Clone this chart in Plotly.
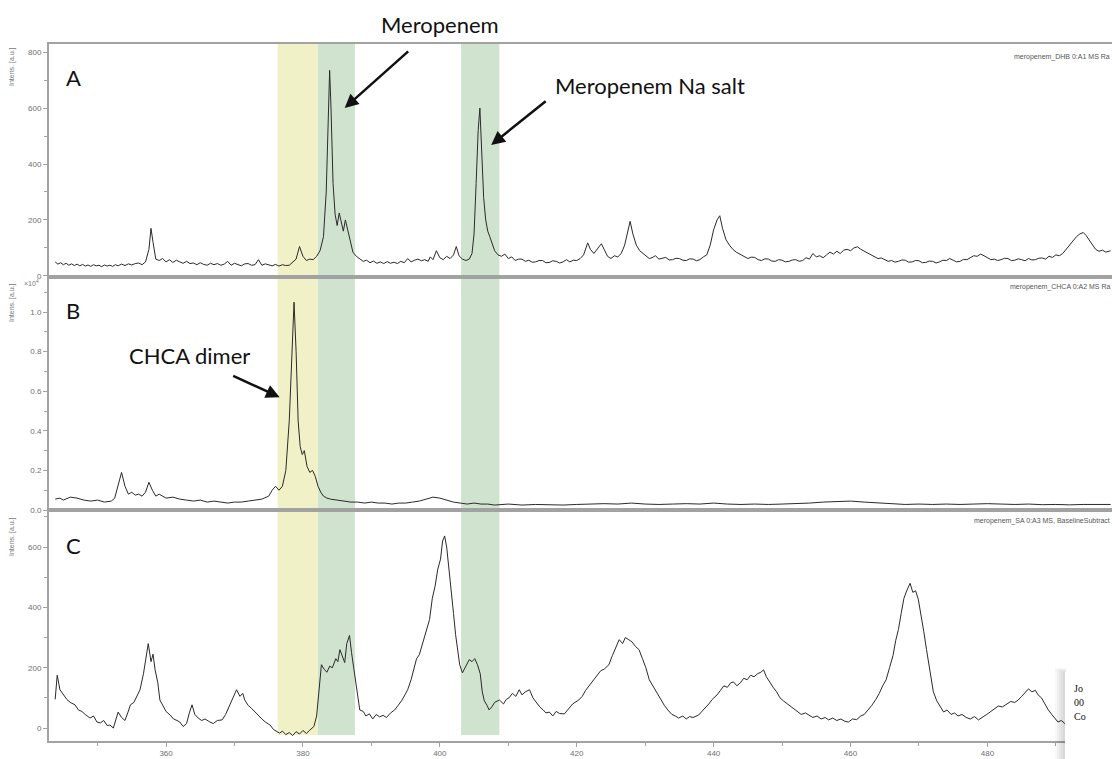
import plotly.graph_objects as go
from plotly.subplots import make_subplots

# ---------------- data ----------------
# Panel A (DHB matrix)
mz_a = [343.8, 344.2, 344.6, 345, 345.4, 345.8, 346.2, 346.6, 347, 347.4,
        347.8, 348.2, 348.6, 349, 349.4, 349.8, 350.2, 350.6, 351, 351.4,
        351.8, 352.2, 352.6, 353, 353.5, 354, 354.5, 355, 355.5, 356,
        356.5, 357, 357.5, 357.8, 358.1, 358.5, 359, 359.5, 360, 360.5,
        361, 361.5, 362, 362.5, 363, 363.5, 364, 364.5, 365, 365.5,
        366, 366.5, 367, 367.5, 368, 368.5, 369, 369.5, 370, 370.5,
        371, 371.5, 372, 372.5, 373, 373.5, 374, 374.5, 375, 375.5,
        376, 376.5, 377, 377.5, 378, 378.5, 379, 379.5, 380, 380.5,
        381, 381.5, 382, 382.5, 383, 383.4, 383.7, 383.9, 384.1, 384.4,
        384.7, 385, 385.3, 385.6, 385.9, 386.2, 386.5, 386.9, 387.3, 387.8,
        388.3, 388.8, 389.3, 389.8, 390.3, 390.8, 391.3, 391.8, 392.3, 392.8,
        393.3, 393.8, 394.3, 394.8, 395.3, 395.8, 396.3, 396.8, 397.3, 397.8,
        398.3, 398.6, 399, 399.5, 400, 400.5, 401, 401.5, 402, 402.4,
        402.8, 403.3, 403.8, 404.3, 404.7, 405, 405.3, 405.6, 405.85, 406.1,
        406.4, 406.7, 407, 407.3, 407.6, 408, 408.5, 409, 409.5, 410,
        410.5, 411, 411.5, 412, 412.5, 413, 413.5, 414, 414.5, 415,
        415.5, 416, 416.5, 417, 417.5, 418, 418.5, 419, 419.5, 420,
        420.5, 421, 421.6, 422, 422.5, 423, 423.6, 424, 424.5, 425,
        425.5, 426, 426.5, 427, 427.5, 427.8, 428.2, 428.7, 429.2, 429.7,
        430.2, 430.6, 431, 431.5, 432, 432.5, 433, 433.5, 434, 434.5,
        435, 435.5, 436, 436.5, 437, 437.5, 438, 438.5, 439, 439.5,
        440, 440.5, 440.9, 441.3, 441.8, 442.3, 442.8, 443.3, 444, 444.5,
        445, 445.5, 446, 446.5, 447, 447.5, 448, 448.5, 449, 449.5,
        450, 450.5, 451, 451.5, 452, 452.5, 453, 453.5, 454, 454.5,
        455, 455.5, 456, 456.5, 457, 457.5, 458, 458.5, 459, 459.5,
        460, 460.5, 461, 461.5, 462, 462.5, 463, 463.5, 464, 464.5,
        465, 465.5, 466, 466.5, 467, 467.5, 468, 468.5, 469, 469.5,
        470, 470.5, 471, 471.5, 472, 472.5, 473, 473.5, 474, 474.5,
        475, 475.5, 476, 476.5, 477, 477.5, 478, 478.5, 479, 479.5,
        480, 480.5, 481, 481.5, 482, 482.5, 483, 483.5, 484, 484.5,
        485, 485.5, 486, 486.5, 487, 487.5, 488, 488.5, 489, 489.5,
        490, 490.5, 491, 491.5, 492, 492.5, 493, 493.5, 494, 494.4,
        494.8, 495.3, 495.8, 496.3, 496.8, 497.3, 498]
int_a = [50, 42, 47, 40, 45, 38, 43, 37, 42, 36,
         41, 35, 39, 34, 40, 36, 38, 33, 39, 35,
         38, 34, 40, 36, 42, 37, 43, 39, 44, 46,
         40, 50, 95, 170, 120, 60, 55, 62, 50, 58,
         48, 56, 50, 45, 52, 44, 46, 40, 47, 41,
         38, 45, 40, 44, 38, 42, 52, 38, 45, 40,
         36, 43, 44, 38, 40, 58, 38, 43, 40, 36,
         41, 35, 40, 37, 38, 48, 60, 105, 70, 55,
         60, 58, 70, 90, 140, 300, 600, 735, 600, 330,
         220, 180, 225, 190, 160, 200, 170, 120, 85, 70,
         60, 52, 56, 47, 53, 45, 50, 44, 51, 45,
         49, 44, 52, 47, 62, 50, 56, 60, 54, 58,
         52, 68, 58, 90, 65, 58, 70, 62, 75, 105,
         72, 60, 55, 60, 80, 150, 330, 520, 600, 450,
         280, 200, 160, 140, 120, 90, 75, 70, 78, 62,
         68, 55, 60, 60, 52, 56, 49, 50, 55, 55,
         47, 48, 54, 52, 46, 50, 58, 50, 56, 55,
         62, 75, 118, 95, 80, 98, 115, 95, 70, 62,
         72, 68, 80, 110, 170, 195, 150, 110, 90, 80,
         70, 62, 65, 72, 60, 64, 66, 57, 58, 63,
         62, 56, 55, 61, 60, 54, 58, 68, 75, 110,
         165, 200, 215, 170, 130, 110, 95, 85, 75, 70,
         62, 67, 66, 58, 55, 61, 60, 53, 52, 58,
         56, 50, 52, 57, 58, 52, 55, 65, 60, 80,
         68, 72, 65, 75, 85, 78, 88, 80, 92, 95,
         90, 100, 104, 95, 88, 80, 75, 68, 62, 64,
         58, 52, 55, 49, 52, 57, 56, 49, 50, 55,
         54, 47, 48, 53, 52, 46, 50, 56, 55, 62,
         56, 50, 52, 59, 58, 66, 72, 70, 78, 72,
         64, 58, 60, 55, 58, 63, 62, 55, 56, 61,
         58, 54, 62, 57, 58, 63, 64, 60, 70, 66,
         75, 72, 80, 95, 110, 125, 140, 150, 155, 145,
         130, 110, 95, 88, 92, 85, 90]

# Panel B (CHCA matrix), intensities in units of 10^4
mz_b = [343.8, 344.5, 345, 346, 347, 348, 349, 350, 351, 352,
        352.5, 353, 353.5, 354, 354.5, 355, 355.5, 356, 356.5, 357,
        357.5, 358, 358.5, 359, 360, 361, 362, 363, 364, 365,
        366, 367, 368, 369, 370, 371, 372, 373, 374, 375,
        375.5, 376, 376.5, 377, 377.5, 378, 378.4, 378.7, 379, 379.3,
        379.6, 379.9, 380.2, 380.6, 381, 381.4, 381.8, 382.2, 382.6, 383,
        383.5, 384, 385, 386, 387, 388, 389, 390, 391, 392,
        393, 394, 395, 396, 397, 398, 399, 400, 401, 402,
        403, 404, 405, 406, 407, 408, 410, 412, 414, 416,
        418, 420, 422, 424, 426, 428, 430, 432, 434, 436,
        438, 440, 442, 444, 446, 448, 450, 452, 454, 456,
        458, 460, 462, 464, 466, 468, 470, 472, 474, 476,
        478, 480, 482, 484, 486, 488, 490, 492, 494, 496, 498]
int_b = [0.055, 0.06, 0.05, 0.065, 0.06, 0.05, 0.045, 0.05, 0.04, 0.045,
         0.06, 0.12, 0.19, 0.12, 0.08, 0.09, 0.075, 0.08, 0.07, 0.09,
         0.14, 0.1, 0.07, 0.08, 0.06, 0.065, 0.055, 0.05, 0.045, 0.05,
         0.04, 0.045, 0.04, 0.035, 0.04, 0.04, 0.045, 0.05, 0.055, 0.07,
         0.1, 0.12, 0.1, 0.12, 0.2, 0.45, 0.85, 1.05, 0.8, 0.45,
         0.32, 0.28, 0.3, 0.22, 0.19, 0.2, 0.17, 0.12, 0.09, 0.07,
         0.06, 0.055, 0.05, 0.045, 0.04, 0.04, 0.035, 0.04, 0.035, 0.035,
         0.03, 0.035, 0.035, 0.04, 0.045, 0.055, 0.065, 0.06, 0.05, 0.04,
         0.035, 0.03, 0.035, 0.03, 0.03, 0.025, 0.03, 0.025, 0.028, 0.025,
         0.025, 0.028, 0.03, 0.032, 0.03, 0.035, 0.03, 0.028, 0.03, 0.032,
         0.03, 0.035, 0.03, 0.028, 0.03, 0.028, 0.03, 0.032, 0.035, 0.04,
         0.042, 0.045, 0.04, 0.035, 0.03, 0.028, 0.03, 0.028, 0.03, 0.028,
         0.03, 0.032, 0.03, 0.028, 0.03, 0.027, 0.028, 0.026, 0.028, 0.027, 0.028]

# Panel C (SA matrix, baseline subtracted)
mz_c = [343.8, 344.1, 344.5, 345, 345.5, 346, 346.7, 347.2, 347.7, 348.2,
        348.9, 349.4, 349.9, 350.4, 350.9, 351.4, 351.8, 352.3, 352.7, 353,
        353.5, 354, 354.4, 354.8, 355.3, 355.8, 356.2, 356.7, 357.1, 357.4,
        357.8, 358.1, 358.4, 358.8, 359.1, 359.5, 360, 360.6, 361.1, 361.6,
        362, 362.5, 363, 363.4, 363.8, 364.2, 364.7, 365.2, 365.7, 366.4,
        366.9, 367.5, 368.2, 368.7, 369.2, 369.7, 370.3, 370.8, 371.2, 371.5,
        372, 372.5, 373, 373.5, 374, 374.5, 375.2, 375.7, 376.2, 376.6,
        377, 377.5, 378, 378.5, 379, 379.5, 380, 380.5, 381, 381.6,
        382, 382.2, 382.5, 382.7, 383.1, 383.5, 383.9, 384.3, 384.8, 385.1,
        385.4, 385.8, 386.1, 386.4, 386.8, 387.1, 387.4, 387.7, 388, 388.3,
        388.8, 389.2, 389.7, 390.2, 390.7, 391.2, 391.7, 392.2, 392.8, 393.4,
        393.9, 394.4, 394.9, 395.3, 395.8, 396.2, 396.6, 397, 397.5, 398,
        398.5, 398.9, 399.3, 399.7, 400.1, 400.4, 400.7, 401, 401.3, 401.7,
        402, 402.3, 402.6, 402.9, 403.3, 403.7, 404, 404.3, 404.7, 405.1,
        405.5, 405.9, 406.2, 406.5, 406.9, 407.2, 407.6, 408, 408.7, 409.3,
        409.7, 410.1, 410.6, 411.1, 411.6, 412, 412.5, 413.1, 413.6, 414.1,
        414.6, 415.1, 415.5, 416, 416.5, 417, 417.5, 418.2, 418.8, 419.4,
        420.3, 420.8, 421.3, 421.8, 422.5, 423, 423.5, 424, 424.7, 425.2,
        425.7, 426.2, 426.7, 427.1, 427.6, 428.1, 428.6, 429.1, 429.6, 430.1,
        430.6, 431.1, 431.6, 432.3, 432.8, 433.3, 433.9, 434.4, 434.9, 435.5,
        436, 436.5, 437, 437.8, 438.3, 438.8, 439.3, 439.8, 440.5, 441,
        441.5, 442, 442.5, 442.9, 443.4, 443.9, 444.4, 444.9, 445.4, 445.9,
        446.4, 446.9, 447.3, 447.7, 448.2, 448.7, 449.2, 449.7, 450.2, 451,
        451.6, 452.2, 452.8, 453.4, 453.9, 454.5, 455.1, 455.7, 456.3, 456.8,
        457.4, 458, 458.6, 459.2, 459.7, 460.3, 460.9, 461.5, 462, 462.6,
        463.1, 463.7, 464.2, 464.7, 465.2, 465.7, 466.2, 466.6, 467, 467.4,
        467.8, 468.2, 468.7, 469.1, 469.5, 469.9, 470.3, 470.7, 471.1, 471.6,
        472.1, 472.6, 473.1, 473.6, 474.1, 474.7, 475.2, 475.7, 476.3, 476.9,
        477.5, 478.1, 478.7, 479.3, 479.9, 480.5, 481.1, 481.6, 482.2, 482.8,
        483.4, 484, 484.5, 485, 485.5, 486, 486.5, 487, 487.4, 487.9,
        488.4, 488.9, 489.4, 489.9, 490.3, 490.8, 491.3, 491.9]
int_c = [95, 175, 127, 110, 95, 85, 77, 60, 55, 45,
         33, 40, 20, 17, 25, 8, 10, 0, 30, 53,
         35, 25, 50, 77, 85, 110, 127, 180, 240, 280,
         220, 245, 193, 150, 93, 75, 55, 43, 30, 25,
         20, 5, 15, 50, 77, 45, 33, 25, 30, 20,
         15, 25, 27, 45, 70, 100, 127, 105, 115, 93,
         75, 65, 53, 40, 30, 20, 10, -5, -12, -17,
         -10, -22, -15, -25, -12, -20, -8, -18, -7, 5,
         40, 93, 170, 210, 195, 185, 205, 200, 230, 220,
         260, 235, 217, 280, 307, 250, 200, 160, 100, 60,
         55, 40, 47, 30, 45, 37, 42, 35, 50, 60,
         75, 90, 110, 127, 160, 200, 230, 243, 280, 320,
         360, 430, 470, 527, 560, 620, 637, 600, 540, 460,
         380, 310, 260, 210, 183, 200, 215, 227, 220, 230,
         210, 180, 120, 90, 75, 60, 70, 85, 93, 80,
         95, 100, 115, 105, 127, 110, 120, 127, 100, 85,
         70, 60, 50, 53, 40, 55, 48, 47, 65, 80,
         93, 105, 125, 140, 160, 175, 190, 195, 210, 240,
         265, 293, 280, 300, 293, 285, 270, 260, 230, 200,
         160, 140, 120, 93, 75, 60, 45, 40, 33, 40,
         30, 38, 35, 43, 55, 70, 80, 95, 110, 125,
         140, 135, 150, 153, 140, 150, 165, 160, 175, 170,
         180, 185, 193, 170, 150, 135, 120, 100, 90, 77,
         65, 55, 45, 50, 43, 35, 40, 30, 35, 27,
         33, 25, 30, 22, 20, 30, 28, 40, 45, 60,
         75, 95, 115, 140, 160, 200, 240, 290, 327, 380,
         430, 455, 480, 450, 455, 427, 380, 320, 260, 190,
         120, 90, 70, 53, 60, 45, 50, 40, 45, 35,
         30, 38, 27, 35, 45, 55, 65, 73, 70, 80,
         88, 85, 93, 105, 118, 130, 120, 125, 110, 100,
         80, 60, 45, 30, 20, 25, 15, 20]

# highlighted m/z windows
band_lo = [376.3, 382.2, 403.1]
band_hi = [382.2, 387.6, 408.7]
band_col = ["#f1f1c8", "#cfe3cf", "#cfe3cf"]

x_ticks = [360, 380, 400, 420, 440, 460, 480]
panel_letters = ["A", "B", "C"]
panel_names = ["meropenem_DHB 0:A1 MS Ra", "meropenem_CHCA 0:A2 MS Ra",
               "meropenem_SA 0:A3 MS, BaselineSubtract"]

# ---------------- layout helpers ----------------
W, H = 1112, 759
ML, MT, MB, MR = 49, 44, 18, 0
PW, PH = W - ML - MR, H - MT - MB


def px(x):
    return (x - ML) / PW


def py(y):
    return (H - MB - y) / PH


fig = make_subplots(rows=3, cols=1, shared_xaxes=True, vertical_spacing=0,
                    row_heights=[233, 233, 231])

for i, (mz, it) in enumerate([(mz_a, int_a), (mz_b, int_b), (mz_c, int_c)]):
    fig.add_trace(go.Scatter(x=mz, y=it, mode="lines",
                             line=dict(color="#2a2a2a", width=1),
                             showlegend=False, hoverinfo="skip"),
                  row=i + 1, col=1)

axcol = "#a2a2a2"
tickfont = dict(family="Liberation Sans, Arial", size=8, color="#707070")

for r in (1, 2, 3):
    fig.update_xaxes(row=r, col=1, range=[342.9, 498.2], showline=True, mirror=True,
                     linecolor=axcol, linewidth=1.5, showgrid=False, zeroline=False,
                     ticks="outside" if r == 3 else "", tickvals=x_ticks,
                     ticklen=4, tickcolor=axcol, tickfont=tickfont,
                     minor=dict(dtick=10, tick0=350, ticks="outside",
                                ticklen=3, tickcolor=axcol) if r == 3 else None)

yrng = [[-4, 829], [0, 1.177], [-43, 723]]
ydt = [200, 0.2, 200]
ymin = [100, 0.1, 100]
yfmt = ["d", ".1f", "d"]
for r in (1, 2, 3):
    fig.update_yaxes(row=r, col=1, range=yrng[r - 1], showline=True, linecolor=axcol,
                     linewidth=2, showgrid=False, zeroline=False, ticks="outside",
                     ticklen=4, tickcolor=axcol, tickfont=tickfont, dtick=ydt[r - 1],
                     tick0=0, tickformat=yfmt[r - 1],
                     minor=dict(dtick=ymin[r - 1], tick0=0, ticks="outside",
                                ticklen=3, tickcolor=axcol))

shapes = []
for lo, hi, c in zip(band_lo, band_hi, band_col):
    shapes.append(dict(type="rect", xref="x", yref="paper", x0=lo, x1=hi,
                       y0=py(735), y1=1, fillcolor=c, line=dict(width=0),
                       layer="below"))
# bottom-right overlay box with soft shadow
for k in range(5):
    shapes.append(dict(type="rect", xref="paper", yref="paper",
                       x0=px(1055 + 2 * k), x1=px(1066), y0=py(775), y1=py(668 + k),
                       fillcolor="rgba(0,0,0,0.03)", line=dict(width=0), layer="above"))
shapes.append(dict(type="rect", xref="paper", yref="paper", x0=px(1065), x1=px(1125),
                   y0=py(775), y1=py(672), fillcolor="white", line=dict(width=0),
                   layer="above"))

ann = []
lab_font = dict(family="Lato, Open Sans, sans-serif", size=22, color="#111")
for letter, yy in zip(panel_letters, [77, 310, 545]):
    ann.append(dict(text=letter, x=px(64), y=py(yy), xref="paper", yref="paper",
                    xanchor="left", yanchor="middle", showarrow=False, font=lab_font))
for name, yy in zip(panel_names, [57, 287, 521]):
    ann.append(dict(text=name, x=px(1112), y=py(yy), xref="paper", yref="paper",
                    xanchor="right", yanchor="middle", showarrow=False,
                    font=dict(family="Liberation Sans, Arial", size=7, color="#555")))
for yy in [67, 303, 537]:
    ann.append(dict(text="Intens. [a.u.]", x=px(12), y=py(yy), xref="paper", yref="paper",
                    xanchor="center", yanchor="middle", showarrow=False, textangle=-90,
                    font=dict(family="Liberation Sans, Arial", size=7, color="#777")))
ann.append(dict(text="×10<sup>4</sup>", x=px(22), y=py(283), xref="paper", yref="paper",
                xanchor="left", yanchor="middle", showarrow=False,
                font=dict(family="Liberation Sans, Arial", size=7, color="#777")))

ann.append(dict(text="Meropenem", x=px(440), y=py(25), xref="paper", yref="paper",
                xanchor="center", yanchor="middle", showarrow=False, font=lab_font))
ann.append(dict(text="Meropenem Na salt", x=px(553), y=py(85), xref="paper", yref="paper",
                xanchor="left", yanchor="middle", showarrow=False, font=lab_font))
ann.append(dict(text="CHCA dimer", x=px(127), y=py(355), xref="paper", yref="paper",
                xanchor="left", yanchor="middle", showarrow=False, font=lab_font))

arrow = dict(showarrow=True, arrowhead=2, arrowsize=1.1, arrowwidth=2.5,
             arrowcolor="#111", text="")
ann.append(dict(x=386.1, y=600, xref="x", yref="y", ax=65, ay=-58, **arrow))
ann.append(dict(x=407.5, y=468, xref="x", yref="y", ax=56, ay=-45, **arrow))
ann.append(dict(x=376.6, y=0.57, xref="x2", yref="y2", ax=-48, ay=-22, **arrow))

for t, yy in zip(["Jo", "00", "Co"], [688, 702, 716]):
    ann.append(dict(text=t, x=px(1072), y=py(yy), xref="paper", yref="paper",
                    xanchor="left", yanchor="middle", showarrow=False,
                    font=dict(family="Liberation Serif, DejaVu Serif, serif", size=10,
                              color="#111")))

fig.update_layout(width=W, height=H, margin=dict(l=ML, r=MR, t=MT, b=MB),
                  paper_bgcolor="white", plot_bgcolor="white",
                  shapes=shapes, annotations=ann, showlegend=False)

fig.write_html("out.html")
